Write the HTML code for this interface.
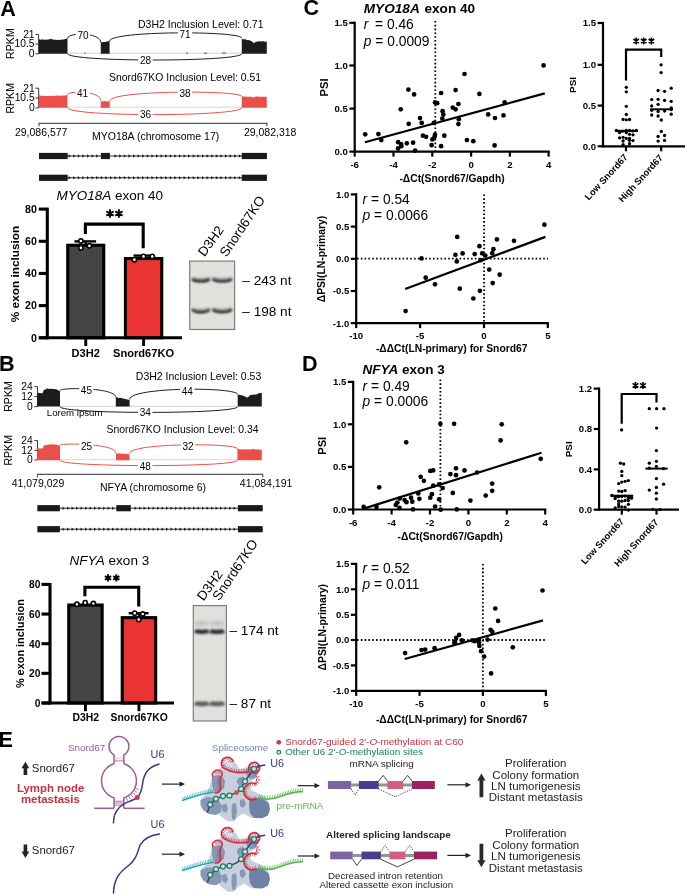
<!DOCTYPE html>
<html><head><meta charset="utf-8"><title>Figure</title>
<style>
html,body{margin:0;padding:0;background:#fff;width:685px;height:895px;overflow:hidden;}
svg{display:block;will-change:transform;font-family:"Liberation Sans", sans-serif;}
</style></head><body>
<svg width="685" height="895" viewBox="0 0 685 895">
<defs><filter id="blur1" filterUnits="userSpaceOnUse" x="0" y="0" width="685" height="895"><feGaussianBlur stdDeviation="0.6"/></filter><filter id="blur05"><feGaussianBlur stdDeviation="0.35"/></filter><filter id="blur06" filterUnits="userSpaceOnUse" x="0" y="0" width="685" height="895"><feGaussianBlur stdDeviation="0.6"/></filter><filter id="blur08" filterUnits="userSpaceOnUse" x="0" y="0" width="685" height="895"><feGaussianBlur stdDeviation="1.0"/></filter><filter id="blur10" filterUnits="userSpaceOnUse" x="0" y="0" width="685" height="895"><feGaussianBlur stdDeviation="1.2"/></filter><filter id="blur15" filterUnits="userSpaceOnUse" x="0" y="0" width="685" height="895"><feGaussianBlur stdDeviation="1.4"/></filter></defs>
<text x="0.20" y="15.60" font-size="21.6" font-weight="bold">A</text>
<text transform="translate(13.90,43.60) rotate(-90)" x="0" y="0" font-size="10.6" text-anchor="middle">RPKM</text>
<line x1="38.60" y1="34.40" x2="38.60" y2="53.80" stroke="#222" stroke-width="0.9"/>
<line x1="35.40" y1="34.40" x2="38.60" y2="34.40" stroke="#222" stroke-width="0.9"/>
<text x="34.60" y="37.70" font-size="10.3" text-anchor="end">21</text>
<line x1="35.40" y1="44.10" x2="38.60" y2="44.10" stroke="#222" stroke-width="0.9"/>
<text x="34.60" y="47.40" font-size="10.3" text-anchor="end">10.5</text>
<line x1="35.40" y1="53.80" x2="38.60" y2="53.80" stroke="#222" stroke-width="0.9"/>
<text x="34.60" y="57.10" font-size="10.3" text-anchor="end">0</text>
<text x="263.50" y="27.50" font-size="10.5" text-anchor="end">D3H2 Inclusion Level: 0.71</text>
<line x1="67.50" y1="53.20" x2="241.80" y2="53.20" stroke="#d2d2d2" stroke-width="1.0"/>
<path d="M84,53.2 h1.5 M204,53.2 h3 M222,53.2 h4 M186,53.2 h2" stroke="#555" stroke-width="1"/>
<path d="M38.90,53.80 L38.90,38.92 L39.51,39.46 L40.12,39.61 L40.73,39.76 L41.33,39.77 L41.94,39.37 L42.55,39.33 L43.16,39.90 L43.77,39.48 L44.38,39.46 L44.99,39.98 L45.59,39.61 L46.20,39.86 L46.81,39.60 L47.42,39.70 L48.03,39.35 L48.64,39.50 L49.24,39.47 L49.85,39.05 L50.46,39.01 L51.07,39.08 L51.68,38.85 L52.29,39.54 L52.90,39.63 L53.50,39.47 L54.11,39.30 L54.72,39.89 L55.33,39.63 L55.94,39.82 L56.55,39.94 L57.16,39.84 L57.76,40.00 L58.37,39.65 L58.98,39.94 L59.59,39.71 L60.20,40.06 L60.81,40.04 L61.41,39.51 L62.02,39.54 L62.63,39.45 L63.24,39.83 L63.85,39.31 L64.46,39.30 L65.07,38.91 L65.67,38.89 L66.28,38.64 L66.89,38.46 L67.50,38.46 L67.50,53.80 Z" fill="#1c1c1c"/>
<path d="M100.80,53.80 L100.80,42.49 L101.43,42.33 L102.06,42.34 L102.69,42.14 L103.31,42.00 L103.94,42.02 L104.57,42.12 L105.20,41.97 L105.83,41.85 L106.46,41.52 L107.09,41.54 L107.71,41.33 L108.34,41.18 L108.97,41.05 L109.60,40.99 L109.60,53.80 Z" fill="#1c1c1c"/>
<path d="M241.80,53.80 L241.80,38.79 L242.41,38.99 L243.02,39.14 L243.63,39.36 L244.24,39.33 L244.85,39.58 L245.46,39.07 L246.07,39.49 L246.68,39.99 L247.29,39.94 L247.90,40.27 L248.51,39.88 L249.12,40.29 L249.73,40.29 L250.34,40.66 L250.95,40.84 L251.56,40.95 L252.17,41.63 L252.78,42.21 L253.39,43.19 L254.00,42.99 L254.60,42.32 L255.21,42.52 L255.82,41.82 L256.43,41.91 L257.04,41.45 L257.65,41.25 L258.26,41.76 L258.87,41.19 L259.48,41.09 L260.09,41.54 L260.70,41.48 L261.31,41.09 L261.92,41.58 L262.53,41.30 L263.14,41.42 L263.75,41.10 L264.36,41.64 L264.97,41.48 L265.58,41.69 L266.19,41.66 L266.80,41.26 L266.80,53.80 Z" fill="#1c1c1c"/>
<path d="M67.50,38.60 C67.50,32.07 100.80,32.07 100.80,42.60" fill="none" stroke="#1c1c1c" stroke-width="1.0"/>
<path d="M109.60,41.10 C109.60,30.65 241.80,30.65 241.80,38.20" fill="none" stroke="#1c1c1c" stroke-width="1.0"/>
<path d="M67.50,53.60 C67.50,62.13 241.80,62.13 241.80,53.60" fill="none" stroke="#1c1c1c" stroke-width="1.0"/>
<rect x="75.84" y="30.90" width="14.32" height="8.40" fill="#fff"/>
<text x="83.00" y="38.68" font-size="10.0" text-anchor="middle">70</text>
<rect x="177.84" y="30.30" width="14.32" height="8.40" fill="#fff"/>
<text x="185.00" y="38.08" font-size="10.0" text-anchor="middle">71</text>
<rect x="138.34" y="56.00" width="14.32" height="8.40" fill="#fff"/>
<text x="145.50" y="63.78" font-size="10.0" text-anchor="middle">28</text>
<text transform="translate(13.90,98.30) rotate(-90)" x="0" y="0" font-size="10.6" text-anchor="middle">RPKM</text>
<line x1="38.70" y1="88.20" x2="38.70" y2="107.90" stroke="#222" stroke-width="0.9"/>
<line x1="35.50" y1="88.20" x2="38.70" y2="88.20" stroke="#222" stroke-width="0.9"/>
<text x="34.70" y="91.50" font-size="10.3" text-anchor="end">21</text>
<line x1="35.50" y1="98.05" x2="38.70" y2="98.05" stroke="#222" stroke-width="0.9"/>
<text x="34.70" y="101.35" font-size="10.3" text-anchor="end">10.5</text>
<line x1="35.50" y1="107.90" x2="38.70" y2="107.90" stroke="#222" stroke-width="0.9"/>
<text x="34.70" y="111.20" font-size="10.3" text-anchor="end">0</text>
<text x="261.00" y="81.20" font-size="10.4" text-anchor="end">Snord67KO Inclusion Level: 0.51</text>
<line x1="67.50" y1="107.20" x2="241.80" y2="107.20" stroke="#f6c9c7" stroke-width="1.0"/>
<path d="M38.90,107.80 L38.90,93.51 L39.51,95.70 L40.12,95.80 L40.73,95.65 L41.33,95.48 L41.94,95.96 L42.55,95.84 L43.16,96.05 L43.77,95.79 L44.38,96.08 L44.99,95.74 L45.59,96.13 L46.20,96.09 L46.81,95.88 L47.42,95.98 L48.03,96.09 L48.64,95.76 L49.24,96.02 L49.85,96.21 L50.46,95.82 L51.07,96.17 L51.68,96.06 L52.29,96.15 L52.90,95.77 L53.50,95.58 L54.11,96.05 L54.72,96.02 L55.33,95.75 L55.94,95.48 L56.55,95.53 L57.16,95.81 L57.76,95.54 L58.37,95.98 L58.98,95.70 L59.59,95.41 L60.20,95.70 L60.81,95.46 L61.41,95.83 L62.02,95.78 L62.63,95.47 L63.24,95.53 L63.85,95.53 L64.46,95.58 L65.07,95.66 L65.67,94.97 L66.28,95.17 L66.89,95.30 L67.50,95.06 L67.50,107.80 Z" fill="#ea4f4a"/>
<path d="M100.80,107.80 L100.80,101.23 L101.40,101.16 L102.00,101.36 L102.60,101.13 L103.20,101.31 L103.80,101.25 L104.40,101.12 L105.00,101.30 L105.60,101.11 L106.20,101.27 L106.80,101.13 L107.40,101.14 L108.00,101.27 L108.60,101.43 L109.20,101.15 L109.80,101.19 L109.80,107.80 Z" fill="#ea4f4a"/>
<path d="M241.80,107.80 L241.80,96.21 L242.41,96.75 L243.02,96.20 L243.63,96.63 L244.24,96.23 L244.85,96.37 L245.46,96.93 L246.07,96.40 L246.68,96.74 L247.29,96.64 L247.90,96.66 L248.51,96.72 L249.12,96.54 L249.73,97.02 L250.34,96.59 L250.95,96.83 L251.56,96.83 L252.17,97.14 L252.78,97.38 L253.39,97.67 L254.00,97.12 L254.60,96.75 L255.21,96.67 L255.82,97.00 L256.43,96.30 L257.04,96.70 L257.65,96.54 L258.26,96.75 L258.87,96.54 L259.48,96.80 L260.09,96.67 L260.70,96.79 L261.31,96.98 L261.92,96.77 L262.53,96.47 L263.14,96.43 L263.75,97.06 L264.36,96.75 L264.97,96.55 L265.58,97.09 L266.19,96.84 L266.80,96.96 L266.80,107.80 Z" fill="#ea4f4a"/>
<path d="M67.50,94.80 C67.50,90.60 100.80,90.60 100.80,100.80" fill="none" stroke="#ea4f4a" stroke-width="1.0"/>
<path d="M109.80,101.00 C109.80,90.02 241.80,90.02 241.80,96.50" fill="none" stroke="#ea4f4a" stroke-width="1.0"/>
<path d="M67.50,107.60 C67.50,116.93 241.80,116.93 241.80,107.60" fill="none" stroke="#ea4f4a" stroke-width="1.0"/>
<rect x="75.34" y="89.50" width="14.32" height="8.40" fill="#fff"/>
<text x="82.50" y="97.28" font-size="10.0" text-anchor="middle">41</text>
<rect x="177.84" y="89.20" width="14.32" height="8.40" fill="#fff"/>
<text x="185.00" y="96.98" font-size="10.0" text-anchor="middle">38</text>
<rect x="138.34" y="110.70" width="14.32" height="8.40" fill="#fff"/>
<text x="145.50" y="118.48" font-size="10.0" text-anchor="middle">36</text>
<line x1="39.00" y1="123.30" x2="266.90" y2="123.30" stroke="#555" stroke-width="1.2"/>
<line x1="39.00" y1="122.70" x2="39.00" y2="126.20" stroke="#555" stroke-width="1.2"/>
<line x1="266.90" y1="122.70" x2="266.90" y2="126.20" stroke="#555" stroke-width="1.2"/>
<text x="14.90" y="135.80" font-size="10.5">29,086,577</text>
<text x="243.90" y="135.80" font-size="10.5">29,082,318</text>
<text x="92.00" y="139.50" font-size="10.5">MYO18A (chromosome 17)</text>
<line x1="39.00" y1="156.00" x2="266.90" y2="156.00" stroke="#2a2a2a" stroke-width="1.0"/>
<path d="M68.60,154.20 L70.80,156.00 L68.60,157.80 Z M73.20,154.20 L75.40,156.00 L73.20,157.80 Z M77.80,154.20 L80.00,156.00 L77.80,157.80 Z M82.40,154.20 L84.60,156.00 L82.40,157.80 Z M87.00,154.20 L89.20,156.00 L87.00,157.80 Z M91.60,154.20 L93.80,156.00 L91.60,157.80 Z M96.20,154.20 L98.40,156.00 L96.20,157.80 Z M114.60,154.20 L116.80,156.00 L114.60,157.80 Z M119.20,154.20 L121.40,156.00 L119.20,157.80 Z M123.80,154.20 L126.00,156.00 L123.80,157.80 Z M128.40,154.20 L130.60,156.00 L128.40,157.80 Z M133.00,154.20 L135.20,156.00 L133.00,157.80 Z M137.60,154.20 L139.80,156.00 L137.60,157.80 Z M142.20,154.20 L144.40,156.00 L142.20,157.80 Z M146.80,154.20 L149.00,156.00 L146.80,157.80 Z M151.40,154.20 L153.60,156.00 L151.40,157.80 Z M156.00,154.20 L158.20,156.00 L156.00,157.80 Z M160.60,154.20 L162.80,156.00 L160.60,157.80 Z M165.20,154.20 L167.40,156.00 L165.20,157.80 Z M169.80,154.20 L172.00,156.00 L169.80,157.80 Z M174.40,154.20 L176.60,156.00 L174.40,157.80 Z M179.00,154.20 L181.20,156.00 L179.00,157.80 Z M183.60,154.20 L185.80,156.00 L183.60,157.80 Z M188.20,154.20 L190.40,156.00 L188.20,157.80 Z M192.80,154.20 L195.00,156.00 L192.80,157.80 Z M197.40,154.20 L199.60,156.00 L197.40,157.80 Z M202.00,154.20 L204.20,156.00 L202.00,157.80 Z M206.60,154.20 L208.80,156.00 L206.60,157.80 Z M211.20,154.20 L213.40,156.00 L211.20,157.80 Z M215.80,154.20 L218.00,156.00 L215.80,157.80 Z M220.40,154.20 L222.60,156.00 L220.40,157.80 Z M225.00,154.20 L227.20,156.00 L225.00,157.80 Z M229.60,154.20 L231.80,156.00 L229.60,157.80 Z M234.20,154.20 L236.40,156.00 L234.20,157.80 Z M238.80,154.20 L241.00,156.00 L238.80,157.80 Z " fill="#1a1a1a"/>
<rect x="39.00" y="152.90" width="28.70" height="6.20" fill="#1a1a1a"/>
<rect x="100.90" y="152.90" width="9.00" height="6.20" fill="#1a1a1a"/>
<rect x="241.70" y="152.90" width="25.20" height="6.20" fill="#1a1a1a"/>
<line x1="39.00" y1="177.80" x2="266.90" y2="177.80" stroke="#2a2a2a" stroke-width="1.0"/>
<path d="M68.60,176.00 L70.80,177.80 L68.60,179.60 Z M73.20,176.00 L75.40,177.80 L73.20,179.60 Z M77.80,176.00 L80.00,177.80 L77.80,179.60 Z M82.40,176.00 L84.60,177.80 L82.40,179.60 Z M87.00,176.00 L89.20,177.80 L87.00,179.60 Z M91.60,176.00 L93.80,177.80 L91.60,179.60 Z M96.20,176.00 L98.40,177.80 L96.20,179.60 Z M100.80,176.00 L103.00,177.80 L100.80,179.60 Z M105.40,176.00 L107.60,177.80 L105.40,179.60 Z M110.00,176.00 L112.20,177.80 L110.00,179.60 Z M114.60,176.00 L116.80,177.80 L114.60,179.60 Z M119.20,176.00 L121.40,177.80 L119.20,179.60 Z M123.80,176.00 L126.00,177.80 L123.80,179.60 Z M128.40,176.00 L130.60,177.80 L128.40,179.60 Z M133.00,176.00 L135.20,177.80 L133.00,179.60 Z M137.60,176.00 L139.80,177.80 L137.60,179.60 Z M142.20,176.00 L144.40,177.80 L142.20,179.60 Z M146.80,176.00 L149.00,177.80 L146.80,179.60 Z M151.40,176.00 L153.60,177.80 L151.40,179.60 Z M156.00,176.00 L158.20,177.80 L156.00,179.60 Z M160.60,176.00 L162.80,177.80 L160.60,179.60 Z M165.20,176.00 L167.40,177.80 L165.20,179.60 Z M169.80,176.00 L172.00,177.80 L169.80,179.60 Z M174.40,176.00 L176.60,177.80 L174.40,179.60 Z M179.00,176.00 L181.20,177.80 L179.00,179.60 Z M183.60,176.00 L185.80,177.80 L183.60,179.60 Z M188.20,176.00 L190.40,177.80 L188.20,179.60 Z M192.80,176.00 L195.00,177.80 L192.80,179.60 Z M197.40,176.00 L199.60,177.80 L197.40,179.60 Z M202.00,176.00 L204.20,177.80 L202.00,179.60 Z M206.60,176.00 L208.80,177.80 L206.60,179.60 Z M211.20,176.00 L213.40,177.80 L211.20,179.60 Z M215.80,176.00 L218.00,177.80 L215.80,179.60 Z M220.40,176.00 L222.60,177.80 L220.40,179.60 Z M225.00,176.00 L227.20,177.80 L225.00,179.60 Z M229.60,176.00 L231.80,177.80 L229.60,179.60 Z M234.20,176.00 L236.40,177.80 L234.20,179.60 Z M238.80,176.00 L241.00,177.80 L238.80,179.60 Z " fill="#1a1a1a"/>
<rect x="39.00" y="174.70" width="28.70" height="6.20" fill="#1a1a1a"/>
<rect x="241.70" y="174.70" width="25.20" height="6.20" fill="#1a1a1a"/>
<rect x="67.75" y="245.25" width="36.00" height="92.55" fill="#454547" stroke="#000" stroke-width="3.1"/>
<line x1="85.75" y1="241.40" x2="85.75" y2="245.70" stroke="#000" stroke-width="2.2"/>
<line x1="74.50" y1="241.40" x2="96.10" y2="241.40" stroke="#000" stroke-width="2.4"/>
<circle cx="80.90" cy="241.00" r="2.15" fill="#fff" stroke="#000" stroke-width="1.6"/>
<circle cx="80.90" cy="247.90" r="2.15" fill="#fff" stroke="#000" stroke-width="1.6"/>
<circle cx="89.40" cy="245.80" r="2.15" fill="#fff" stroke="#000" stroke-width="1.6"/>
<line x1="85.75" y1="337.80" x2="85.75" y2="346.00" stroke="#000" stroke-width="2.9"/>
<rect x="125.45" y="258.55" width="36.30" height="79.25" fill="#ea3434" stroke="#000" stroke-width="3.1"/>
<line x1="143.60" y1="255.60" x2="143.60" y2="259.00" stroke="#000" stroke-width="2.2"/>
<line x1="133.50" y1="255.60" x2="153.50" y2="255.60" stroke="#000" stroke-width="2.4"/>
<circle cx="134.40" cy="259.70" r="2.15" fill="#fff" stroke="#000" stroke-width="1.6"/>
<circle cx="143.50" cy="256.40" r="2.15" fill="#fff" stroke="#000" stroke-width="1.6"/>
<circle cx="152.30" cy="256.40" r="2.15" fill="#fff" stroke="#000" stroke-width="1.6"/>
<line x1="143.60" y1="337.80" x2="143.60" y2="346.00" stroke="#000" stroke-width="2.9"/>
<line x1="47.30" y1="207.70" x2="47.30" y2="339.30" stroke="#000" stroke-width="3.1"/>
<line x1="38.80" y1="337.80" x2="182.00" y2="337.80" stroke="#000" stroke-width="3.1"/>
<line x1="38.80" y1="337.80" x2="47.30" y2="337.80" stroke="#000" stroke-width="3.1"/>
<text x="36.80" y="341.60" font-size="10.6" text-anchor="end" font-weight="bold">0</text>
<line x1="38.80" y1="305.62" x2="47.30" y2="305.62" stroke="#000" stroke-width="3.1"/>
<text x="36.80" y="309.43" font-size="10.6" text-anchor="end" font-weight="bold">20</text>
<line x1="38.80" y1="273.45" x2="47.30" y2="273.45" stroke="#000" stroke-width="3.1"/>
<text x="36.80" y="277.25" font-size="10.6" text-anchor="end" font-weight="bold">40</text>
<line x1="38.80" y1="241.28" x2="47.30" y2="241.28" stroke="#000" stroke-width="3.1"/>
<text x="36.80" y="245.08" font-size="10.6" text-anchor="end" font-weight="bold">60</text>
<line x1="38.80" y1="209.10" x2="47.30" y2="209.10" stroke="#000" stroke-width="3.1"/>
<text x="36.80" y="212.90" font-size="10.6" text-anchor="end" font-weight="bold">80</text>
<path d="M85.40,233.90 L85.40,224.10 L143.20,224.10 L143.20,248.30" fill="none" stroke="#000" stroke-width="3.1"/>
<path d="M110.00,209.30 L110.00,217.70 M106.36,211.40 L113.64,215.60 M106.36,215.60 L113.64,211.40 M118.90,209.30 L118.90,217.70 M115.26,211.40 L122.54,215.60 M115.26,215.60 L122.54,211.40 " stroke="#000" stroke-width="1.9" fill="none"/>
<text x="56.5" y="199.7" font-size="13.5"><tspan font-style="italic">MYO18A</tspan> exon 40</text>
<text transform="translate(19.30,274.00) rotate(-90)" x="0" y="0" font-size="11.8" text-anchor="middle" font-weight="bold">% exon inclusion</text>
<text x="71.50" y="357.30" font-size="11.1" font-weight="bold">D3H2</text>
<text x="113.00" y="357.30" font-size="11.1" font-weight="bold">Snord67KO</text>
<rect x="189.70" y="261.10" width="44.90" height="68.40" fill="#e0e0dd" stroke="#7e7e7e" stroke-width="1.2"/>
<path d="M192.00,277.80 C194.11,279.93 207.49,279.93 209.60,277.80" fill="none" stroke="#a8a8a8" stroke-width="3.2" filter="url(#blur10)"/>
<path d="M212.50,277.80 C214.82,279.93 229.48,279.93 231.80,277.80" fill="none" stroke="#a8a8a8" stroke-width="3.2" filter="url(#blur10)"/>
<path d="M192.00,308.20 C194.11,310.73 207.49,310.73 209.60,308.20" fill="none" stroke="#a8a8a8" stroke-width="3.2" filter="url(#blur10)"/>
<path d="M212.50,308.20 C214.82,310.73 229.48,310.73 231.80,308.20" fill="none" stroke="#a8a8a8" stroke-width="3.2" filter="url(#blur10)"/>
<path d="M192.30,279.00 C194.35,282.07 207.35,282.07 209.40,279.00" fill="none" stroke="#262626" stroke-width="2.6" filter="url(#blur08)"/>
<path d="M212.80,279.00 C215.06,282.07 229.34,282.07 231.60,279.00" fill="none" stroke="#262626" stroke-width="2.6" filter="url(#blur08)"/>
<path d="M192.30,309.60 C194.35,312.93 207.35,312.93 209.40,309.60" fill="none" stroke="#262626" stroke-width="2.6" filter="url(#blur08)"/>
<path d="M212.80,309.60 C215.06,312.93 229.34,312.93 231.60,309.60" fill="none" stroke="#262626" stroke-width="2.6" filter="url(#blur08)"/>
<text x="242.30" y="285.20" font-size="13.6">– 243 nt</text>
<text x="242.30" y="316.20" font-size="13.6">– 198 nt</text>
<text transform="translate(204.5,257.3) rotate(-54)" font-size="13.2">D3H2</text>
<text transform="translate(226.5,257.8) rotate(-56)" font-size="13.4">Snord67KO</text>
<text x="-0.90" y="370.80" font-size="21.6" font-weight="bold">B</text>
<text transform="translate(12.40,396.50) rotate(-90)" x="0" y="0" font-size="10.6" text-anchor="middle">RPKM</text>
<line x1="37.50" y1="386.60" x2="37.50" y2="406.60" stroke="#222" stroke-width="0.9"/>
<line x1="34.30" y1="386.60" x2="37.50" y2="386.60" stroke="#222" stroke-width="0.9"/>
<text x="32.80" y="389.90" font-size="10.3" text-anchor="end">24</text>
<line x1="34.30" y1="396.60" x2="37.50" y2="396.60" stroke="#222" stroke-width="0.9"/>
<text x="32.80" y="399.90" font-size="10.3" text-anchor="end">12</text>
<line x1="34.30" y1="406.60" x2="37.50" y2="406.60" stroke="#222" stroke-width="0.9"/>
<text x="32.80" y="409.90" font-size="10.3" text-anchor="end">0</text>
<text x="261.30" y="380.40" font-size="10.5" text-anchor="end">D3H2 Inclusion Level: 0.53</text>
<line x1="60.00" y1="406.30" x2="237.70" y2="406.30" stroke="#d2d2d2" stroke-width="1.0"/>
<path d="M37.20,406.60 L37.20,393.07 L37.80,393.01 L38.40,392.85 L39.00,393.36 L39.60,392.75 L40.20,393.10 L40.80,393.38 L41.40,392.81 L42.00,393.14 L42.60,393.18 L43.20,391.71 L43.80,389.76 L44.40,389.81 L45.00,389.45 L45.60,389.47 L46.20,388.89 L46.80,388.77 L47.40,388.50 L48.00,388.60 L48.60,388.93 L49.20,388.72 L49.80,388.88 L50.40,388.64 L51.00,388.92 L51.60,388.50 L52.20,388.69 L52.80,389.05 L53.40,389.18 L54.00,389.07 L54.60,388.93 L55.20,389.15 L55.80,389.20 L56.40,389.35 L57.00,389.82 L57.60,389.67 L58.20,390.43 L58.80,390.71 L59.40,390.41 L60.00,390.92 L60.00,406.60 Z" fill="#1c1c1c"/>
<path d="M115.80,406.60 L115.80,397.34 L116.43,397.36 L117.05,397.52 L117.68,397.43 L118.31,397.82 L118.94,397.92 L119.56,397.92 L120.19,397.77 L120.82,398.04 L121.45,398.03 L122.07,398.09 L122.70,398.59 L123.33,398.76 L123.95,398.44 L124.58,398.99 L125.21,399.01 L125.84,399.05 L126.46,399.15 L127.09,399.49 L127.72,399.53 L128.35,399.80 L128.97,399.93 L129.60,399.82 L129.60,406.60 Z" fill="#1c1c1c"/>
<path d="M237.70,406.60 L237.70,394.57 L238.30,394.74 L238.91,395.09 L239.51,394.87 L240.11,395.00 L240.71,395.15 L241.31,394.97 L241.92,395.29 L242.52,395.62 L243.12,396.00 L243.72,395.77 L244.33,396.19 L244.93,396.30 L245.53,397.07 L246.13,397.25 L246.74,397.06 L247.34,397.63 L247.94,397.24 L248.54,396.64 L249.15,396.24 L249.75,395.54 L250.35,395.07 L250.96,395.05 L251.56,394.64 L252.16,394.67 L252.76,394.64 L253.37,394.43 L253.97,394.68 L254.57,394.60 L255.17,394.80 L255.78,394.43 L256.38,394.38 L256.98,394.14 L257.58,394.11 L258.19,393.71 L258.79,393.06 L259.39,393.04 L259.99,393.03 L260.60,393.03 L261.20,393.04 L261.80,392.87 L261.80,406.60 Z" fill="#1c1c1c"/>
<path d="M60.00,390.50 C60.00,387.37 115.80,387.37 115.80,397.30" fill="none" stroke="#1c1c1c" stroke-width="1.0"/>
<path d="M129.60,399.50 C129.60,386.72 237.70,386.72 237.70,394.60" fill="none" stroke="#1c1c1c" stroke-width="1.0"/>
<path d="M60.00,406.60 C60.00,414.33 237.70,414.33 237.70,406.60" fill="none" stroke="#1c1c1c" stroke-width="1.0"/>
<rect x="79.24" y="386.30" width="14.32" height="8.40" fill="#fff"/>
<text x="86.40" y="394.08" font-size="10.0" text-anchor="middle">45</text>
<rect x="180.14" y="386.80" width="14.32" height="8.40" fill="#fff"/>
<text x="187.30" y="394.58" font-size="10.0" text-anchor="middle">44</text>
<rect x="138.04" y="408.40" width="14.32" height="8.40" fill="#fff"/>
<text x="145.20" y="416.18" font-size="10.0" text-anchor="middle">34</text>
<text x="46.80" y="415.80" font-size="9.65">Lorem ipsum</text>
<text transform="translate(12.40,450.30) rotate(-90)" x="0" y="0" font-size="10.6" text-anchor="middle">RPKM</text>
<line x1="37.50" y1="440.60" x2="37.50" y2="460.00" stroke="#222" stroke-width="0.9"/>
<line x1="34.30" y1="440.60" x2="37.50" y2="440.60" stroke="#222" stroke-width="0.9"/>
<text x="32.80" y="443.90" font-size="10.3" text-anchor="end">24</text>
<line x1="34.30" y1="450.30" x2="37.50" y2="450.30" stroke="#222" stroke-width="0.9"/>
<text x="32.80" y="453.60" font-size="10.3" text-anchor="end">12</text>
<line x1="34.30" y1="460.00" x2="37.50" y2="460.00" stroke="#222" stroke-width="0.9"/>
<text x="32.80" y="463.30" font-size="10.3" text-anchor="end">0</text>
<text x="258.50" y="433.40" font-size="10.4" text-anchor="end">Snord67KO Inclusion Level: 0.34</text>
<line x1="60.00" y1="459.70" x2="237.40" y2="459.70" stroke="#f6c9c7" stroke-width="1.0"/>
<path d="M37.20,460.20 L37.20,448.58 L37.80,448.69 L38.40,448.68 L39.00,448.29 L39.60,448.17 L40.20,448.41 L40.80,448.32 L41.40,448.67 L42.00,448.57 L42.60,448.48 L43.20,447.44 L43.80,445.49 L44.40,445.04 L45.00,445.17 L45.60,444.89 L46.20,445.33 L46.80,444.65 L47.40,445.10 L48.00,444.50 L48.60,444.87 L49.20,444.57 L49.80,444.55 L50.40,444.80 L51.00,444.16 L51.60,444.13 L52.20,444.67 L52.80,444.33 L53.40,443.97 L54.00,444.54 L54.60,444.66 L55.20,444.23 L55.80,444.60 L56.40,444.54 L57.00,444.82 L57.60,445.19 L58.20,445.01 L58.80,445.54 L59.40,445.24 L60.00,445.47 L60.00,460.20 Z" fill="#ea4f4a"/>
<path d="M116.00,460.20 L116.00,453.18 L116.62,453.43 L117.24,453.46 L117.85,453.58 L118.47,453.29 L119.09,453.35 L119.71,453.34 L120.33,453.42 L120.95,453.71 L121.56,453.44 L122.18,453.68 L122.80,453.56 L123.42,453.63 L124.04,453.74 L124.65,453.98 L125.27,453.90 L125.89,453.64 L126.51,453.81 L127.13,453.78 L127.75,454.18 L128.36,454.18 L128.98,454.22 L129.60,454.26 L129.60,460.20 Z" fill="#ea4f4a"/>
<path d="M237.40,460.20 L237.40,448.32 L238.01,448.91 L238.62,449.03 L239.23,449.40 L239.84,449.10 L240.45,449.14 L241.06,449.49 L241.67,449.44 L242.28,449.21 L242.89,449.49 L243.50,449.30 L244.11,449.58 L244.72,449.13 L245.33,449.21 L245.94,449.70 L246.55,449.33 L247.16,449.28 L247.77,449.67 L248.38,449.56 L248.99,449.23 L249.60,449.53 L250.21,449.59 L250.82,449.18 L251.43,449.46 L252.04,449.03 L252.65,449.12 L253.26,448.88 L253.87,448.91 L254.48,449.39 L255.09,448.95 L255.70,449.45 L256.31,449.15 L256.92,449.36 L257.53,449.63 L258.14,449.59 L258.75,449.28 L259.36,449.70 L259.97,449.82 L260.58,449.60 L261.19,449.63 L261.80,450.26 L261.80,460.20 Z" fill="#ea4f4a"/>
<path d="M60.00,445.20 C60.00,443.05 116.00,443.05 116.00,453.30" fill="none" stroke="#ea4f4a" stroke-width="1.0"/>
<path d="M129.60,453.50 C129.60,442.82 237.40,442.82 237.40,448.80" fill="none" stroke="#ea4f4a" stroke-width="1.0"/>
<path d="M60.00,460.20 C60.00,467.40 237.40,467.40 237.40,460.20" fill="none" stroke="#ea4f4a" stroke-width="1.0"/>
<rect x="79.34" y="441.80" width="14.32" height="8.40" fill="#fff"/>
<text x="86.50" y="449.58" font-size="10.0" text-anchor="middle">25</text>
<rect x="180.84" y="441.80" width="14.32" height="8.40" fill="#fff"/>
<text x="188.00" y="449.58" font-size="10.0" text-anchor="middle">32</text>
<rect x="138.04" y="461.90" width="14.32" height="8.40" fill="#fff"/>
<text x="145.20" y="469.68" font-size="10.0" text-anchor="middle">48</text>
<line x1="37.40" y1="474.30" x2="262.70" y2="474.30" stroke="#555" stroke-width="1.2"/>
<line x1="37.40" y1="473.70" x2="37.40" y2="477.20" stroke="#555" stroke-width="1.2"/>
<line x1="262.70" y1="473.70" x2="262.70" y2="477.20" stroke="#555" stroke-width="1.2"/>
<text x="11.70" y="487.20" font-size="10.5">41,079,029</text>
<text x="239.80" y="486.50" font-size="10.5">41,084,191</text>
<text x="100.00" y="491.40" font-size="10.5">NFYA (chromosome 6)</text>
<line x1="37.40" y1="508.20" x2="262.70" y2="508.20" stroke="#2a2a2a" stroke-width="1.0"/>
<path d="M62.60,506.40 L64.80,508.20 L62.60,510.00 Z M67.10,506.40 L69.30,508.20 L67.10,510.00 Z M71.60,506.40 L73.80,508.20 L71.60,510.00 Z M76.10,506.40 L78.30,508.20 L76.10,510.00 Z M80.60,506.40 L82.80,508.20 L80.60,510.00 Z M85.10,506.40 L87.30,508.20 L85.10,510.00 Z M89.60,506.40 L91.80,508.20 L89.60,510.00 Z M94.10,506.40 L96.30,508.20 L94.10,510.00 Z M98.60,506.40 L100.80,508.20 L98.60,510.00 Z M103.10,506.40 L105.30,508.20 L103.10,510.00 Z M107.60,506.40 L109.80,508.20 L107.60,510.00 Z M112.10,506.40 L114.30,508.20 L112.10,510.00 Z M134.60,506.40 L136.80,508.20 L134.60,510.00 Z M139.10,506.40 L141.30,508.20 L139.10,510.00 Z M143.60,506.40 L145.80,508.20 L143.60,510.00 Z M148.10,506.40 L150.30,508.20 L148.10,510.00 Z M152.60,506.40 L154.80,508.20 L152.60,510.00 Z M157.10,506.40 L159.30,508.20 L157.10,510.00 Z M161.60,506.40 L163.80,508.20 L161.60,510.00 Z M166.10,506.40 L168.30,508.20 L166.10,510.00 Z M170.60,506.40 L172.80,508.20 L170.60,510.00 Z M175.10,506.40 L177.30,508.20 L175.10,510.00 Z M179.60,506.40 L181.80,508.20 L179.60,510.00 Z M184.10,506.40 L186.30,508.20 L184.10,510.00 Z M188.60,506.40 L190.80,508.20 L188.60,510.00 Z M193.10,506.40 L195.30,508.20 L193.10,510.00 Z M197.60,506.40 L199.80,508.20 L197.60,510.00 Z M202.10,506.40 L204.30,508.20 L202.10,510.00 Z M206.60,506.40 L208.80,508.20 L206.60,510.00 Z M211.10,506.40 L213.30,508.20 L211.10,510.00 Z M215.60,506.40 L217.80,508.20 L215.60,510.00 Z M220.10,506.40 L222.30,508.20 L220.10,510.00 Z M224.60,506.40 L226.80,508.20 L224.60,510.00 Z M229.10,506.40 L231.30,508.20 L229.10,510.00 Z M233.60,506.40 L235.80,508.20 L233.60,510.00 Z " fill="#1a1a1a"/>
<rect x="37.40" y="505.10" width="22.50" height="6.20" fill="#1a1a1a"/>
<rect x="116.30" y="505.10" width="14.50" height="6.20" fill="#1a1a1a"/>
<rect x="237.90" y="505.10" width="24.80" height="6.20" fill="#1a1a1a"/>
<line x1="37.40" y1="529.20" x2="262.70" y2="529.20" stroke="#2a2a2a" stroke-width="1.0"/>
<path d="M62.60,527.40 L64.80,529.20 L62.60,531.00 Z M67.10,527.40 L69.30,529.20 L67.10,531.00 Z M71.60,527.40 L73.80,529.20 L71.60,531.00 Z M76.10,527.40 L78.30,529.20 L76.10,531.00 Z M80.60,527.40 L82.80,529.20 L80.60,531.00 Z M85.10,527.40 L87.30,529.20 L85.10,531.00 Z M89.60,527.40 L91.80,529.20 L89.60,531.00 Z M94.10,527.40 L96.30,529.20 L94.10,531.00 Z M98.60,527.40 L100.80,529.20 L98.60,531.00 Z M103.10,527.40 L105.30,529.20 L103.10,531.00 Z M107.60,527.40 L109.80,529.20 L107.60,531.00 Z M112.10,527.40 L114.30,529.20 L112.10,531.00 Z M116.60,527.40 L118.80,529.20 L116.60,531.00 Z M121.10,527.40 L123.30,529.20 L121.10,531.00 Z M125.60,527.40 L127.80,529.20 L125.60,531.00 Z M130.10,527.40 L132.30,529.20 L130.10,531.00 Z M134.60,527.40 L136.80,529.20 L134.60,531.00 Z M139.10,527.40 L141.30,529.20 L139.10,531.00 Z M143.60,527.40 L145.80,529.20 L143.60,531.00 Z M148.10,527.40 L150.30,529.20 L148.10,531.00 Z M152.60,527.40 L154.80,529.20 L152.60,531.00 Z M157.10,527.40 L159.30,529.20 L157.10,531.00 Z M161.60,527.40 L163.80,529.20 L161.60,531.00 Z M166.10,527.40 L168.30,529.20 L166.10,531.00 Z M170.60,527.40 L172.80,529.20 L170.60,531.00 Z M175.10,527.40 L177.30,529.20 L175.10,531.00 Z M179.60,527.40 L181.80,529.20 L179.60,531.00 Z M184.10,527.40 L186.30,529.20 L184.10,531.00 Z M188.60,527.40 L190.80,529.20 L188.60,531.00 Z M193.10,527.40 L195.30,529.20 L193.10,531.00 Z M197.60,527.40 L199.80,529.20 L197.60,531.00 Z M202.10,527.40 L204.30,529.20 L202.10,531.00 Z M206.60,527.40 L208.80,529.20 L206.60,531.00 Z M211.10,527.40 L213.30,529.20 L211.10,531.00 Z M215.60,527.40 L217.80,529.20 L215.60,531.00 Z M220.10,527.40 L222.30,529.20 L220.10,531.00 Z M224.60,527.40 L226.80,529.20 L224.60,531.00 Z M229.10,527.40 L231.30,529.20 L229.10,531.00 Z M233.60,527.40 L235.80,529.20 L233.60,531.00 Z " fill="#1a1a1a"/>
<rect x="37.40" y="526.10" width="22.50" height="6.20" fill="#1a1a1a"/>
<rect x="237.90" y="526.10" width="24.80" height="6.20" fill="#1a1a1a"/>
<rect x="68.75" y="605.05" width="33.40" height="97.95" fill="#454547" stroke="#000" stroke-width="3.1"/>
<circle cx="76.90" cy="604.30" r="2.15" fill="#fff" stroke="#000" stroke-width="1.6"/>
<circle cx="85.20" cy="602.70" r="2.15" fill="#fff" stroke="#000" stroke-width="1.6"/>
<circle cx="93.40" cy="603.50" r="2.15" fill="#fff" stroke="#000" stroke-width="1.6"/>
<line x1="85.45" y1="703.00" x2="85.45" y2="711.20" stroke="#000" stroke-width="2.9"/>
<rect x="122.25" y="617.65" width="33.40" height="85.35" fill="#ea3434" stroke="#000" stroke-width="3.1"/>
<line x1="138.95" y1="613.20" x2="138.95" y2="618.10" stroke="#000" stroke-width="2.2"/>
<line x1="128.70" y1="613.20" x2="148.60" y2="613.20" stroke="#000" stroke-width="2.4"/>
<circle cx="134.70" cy="613.20" r="2.15" fill="#fff" stroke="#000" stroke-width="1.6"/>
<circle cx="138.70" cy="619.60" r="2.15" fill="#fff" stroke="#000" stroke-width="1.6"/>
<circle cx="142.70" cy="614.00" r="2.15" fill="#fff" stroke="#000" stroke-width="1.6"/>
<line x1="138.95" y1="703.00" x2="138.95" y2="711.20" stroke="#000" stroke-width="2.9"/>
<line x1="50.00" y1="583.00" x2="50.00" y2="704.50" stroke="#000" stroke-width="3.1"/>
<line x1="41.50" y1="703.00" x2="174.00" y2="703.00" stroke="#000" stroke-width="3.1"/>
<line x1="41.50" y1="703.00" x2="50.00" y2="703.00" stroke="#000" stroke-width="3.1"/>
<text x="40.40" y="706.80" font-size="10.2" text-anchor="end" font-weight="bold">0</text>
<line x1="41.50" y1="673.35" x2="50.00" y2="673.35" stroke="#000" stroke-width="3.1"/>
<text x="40.40" y="677.15" font-size="10.2" text-anchor="end" font-weight="bold">20</text>
<line x1="41.50" y1="643.70" x2="50.00" y2="643.70" stroke="#000" stroke-width="3.1"/>
<text x="40.40" y="647.50" font-size="10.2" text-anchor="end" font-weight="bold">40</text>
<line x1="41.50" y1="614.05" x2="50.00" y2="614.05" stroke="#000" stroke-width="3.1"/>
<text x="40.40" y="617.85" font-size="10.2" text-anchor="end" font-weight="bold">60</text>
<line x1="41.50" y1="584.40" x2="50.00" y2="584.40" stroke="#000" stroke-width="3.1"/>
<text x="40.40" y="588.20" font-size="10.2" text-anchor="end" font-weight="bold">80</text>
<path d="M84.90,596.30 L84.90,587.20 L138.70,587.20 L138.70,606.40" fill="none" stroke="#000" stroke-width="3.1"/>
<path d="M108.00,574.30 L108.00,581.50 M104.88,576.10 L111.12,579.70 M104.88,579.70 L111.12,576.10 M116.30,574.30 L116.30,581.50 M113.18,576.10 L119.42,579.70 M113.18,579.70 L119.42,576.10 " stroke="#000" stroke-width="1.9" fill="none"/>
<text x="69.6" y="565" font-size="13.5"><tspan font-style="italic">NFYA</tspan> exon 3</text>
<text transform="translate(24.00,643.60) rotate(-90)" x="0" y="0" font-size="10.9" text-anchor="middle" font-weight="bold">% exon inclusion</text>
<text x="72.40" y="721.00" font-size="10.4" font-weight="bold">D3H2</text>
<text x="110.60" y="721.00" font-size="10.4" font-weight="bold">Snord67KO</text>
<rect x="193.30" y="605.60" width="33.10" height="115.40" fill="#e0e0dd" stroke="#7e7e7e" stroke-width="1.2"/>
<path d="M195.20,622.80 C196.78,623.60 206.82,623.60 208.40,622.80" fill="none" stroke="#c4c4c2" stroke-width="5.0" filter="url(#blur15)"/>
<path d="M210.20,622.80 C211.83,623.60 222.17,623.60 223.80,622.80" fill="none" stroke="#c4c4c2" stroke-width="5.0" filter="url(#blur15)"/>
<path d="M195.20,630.60 C196.78,632.20 206.82,632.20 208.40,630.60" fill="none" stroke="#2e2e2e" stroke-width="4.3" filter="url(#blur08)"/>
<path d="M210.20,630.60 C211.83,632.20 222.17,632.20 223.80,630.60" fill="none" stroke="#2e2e2e" stroke-width="4.3" filter="url(#blur08)"/>
<path d="M195.20,702.60 C196.78,704.33 206.82,704.33 208.40,702.60" fill="none" stroke="#5e5e5e" stroke-width="4.6" filter="url(#blur10)"/>
<path d="M210.20,702.60 C211.83,704.33 222.17,704.33 223.80,702.60" fill="none" stroke="#5e5e5e" stroke-width="4.6" filter="url(#blur10)"/>
<text x="229.50" y="634.90" font-size="13.6">– 174 nt</text>
<text x="229.50" y="708.30" font-size="13.6">– 87 nt</text>
<text transform="translate(203.5,601.5) rotate(-54)" font-size="13.2">D3H2</text>
<text transform="translate(219.3,601.5) rotate(-56)" font-size="13.4">Snord67KO</text>
<text x="303.60" y="15.20" font-size="21.6" font-weight="bold">C</text>
<text x="363.8" y="13.3" font-size="13.6" font-weight="bold"><tspan font-style="italic">MYO18A</tspan><tspan dx="1"> exon 40</tspan></text>
<line x1="435.30" y1="21.00" x2="435.30" y2="151.00" stroke="#000" stroke-width="1.8" stroke-dasharray="1.6,2.2"/>
<g fill="#000"><circle cx="365.2" cy="134.3" r="2.35"/><circle cx="378.4" cy="134.1" r="2.35"/><circle cx="381.3" cy="140.1" r="2.35"/><circle cx="400.7" cy="109.3" r="2.35"/><circle cx="408.4" cy="89.6" r="2.35"/><circle cx="414.1" cy="94.4" r="2.35"/><circle cx="408.7" cy="123.8" r="2.35"/><circle cx="420.0" cy="118.1" r="2.35"/><circle cx="421.7" cy="122.9" r="2.35"/><circle cx="398.1" cy="142.2" r="2.35"/><circle cx="401.0" cy="144.0" r="2.35"/><circle cx="401.4" cy="146.2" r="2.35"/><circle cx="398.1" cy="148.4" r="2.35"/><circle cx="406.8" cy="143.3" r="2.35"/><circle cx="413.1" cy="142.7" r="2.35"/><circle cx="415.1" cy="150.6" r="2.35"/><circle cx="422.9" cy="135.7" r="2.35"/><circle cx="426.1" cy="136.8" r="2.35"/><circle cx="433.8" cy="122.9" r="2.35"/><circle cx="435.0" cy="102.4" r="2.35"/><circle cx="437.2" cy="103.2" r="2.35"/><circle cx="441.1" cy="93.0" r="2.35"/><circle cx="442.6" cy="111.2" r="2.35"/><circle cx="443.3" cy="114.6" r="2.35"/><circle cx="442.3" cy="118.5" r="2.35"/><circle cx="435.0" cy="134.6" r="2.35"/><circle cx="434.6" cy="136.8" r="2.35"/><circle cx="432.4" cy="139.4" r="2.35"/><circle cx="431.6" cy="145.2" r="2.35"/><circle cx="441.1" cy="146.2" r="2.35"/><circle cx="444.3" cy="135.7" r="2.35"/><circle cx="452.8" cy="107.6" r="2.35"/><circle cx="455.6" cy="90.1" r="2.35"/><circle cx="543.6" cy="65.4" r="2.35"/><circle cx="464.5" cy="74.0" r="2.35"/><circle cx="479.4" cy="93.9" r="2.35"/><circle cx="458.4" cy="104.0" r="2.35"/><circle cx="455.6" cy="109.3" r="2.35"/><circle cx="504.6" cy="102.4" r="2.35"/><circle cx="458.8" cy="119.2" r="2.35"/><circle cx="458.4" cy="124.1" r="2.35"/><circle cx="488.2" cy="114.4" r="2.35"/><circle cx="495.0" cy="118.0" r="2.35"/><circle cx="503.5" cy="115.4" r="2.35"/><circle cx="466.9" cy="140.1" r="2.35"/><circle cx="473.3" cy="141.2" r="2.35"/><circle cx="494.6" cy="145.4" r="2.35"/></g>
<line x1="364.90" y1="142.30" x2="544.80" y2="93.40" stroke="#000" stroke-width="2.2"/>
<line x1="354.70" y1="21.70" x2="354.70" y2="152.70" stroke="#000" stroke-width="2.2"/>
<line x1="349.30" y1="22.80" x2="354.70" y2="22.80" stroke="#000" stroke-width="2.2"/>
<text x="347.80" y="26.20" font-size="9.6" text-anchor="end" font-weight="bold">1.5</text>
<line x1="349.30" y1="65.50" x2="354.70" y2="65.50" stroke="#000" stroke-width="2.2"/>
<text x="347.80" y="68.90" font-size="9.6" text-anchor="end" font-weight="bold">1.0</text>
<line x1="349.30" y1="108.60" x2="354.70" y2="108.60" stroke="#000" stroke-width="2.2"/>
<text x="347.80" y="112.00" font-size="9.6" text-anchor="end" font-weight="bold">0.5</text>
<line x1="349.30" y1="151.60" x2="354.70" y2="151.60" stroke="#000" stroke-width="2.2"/>
<text x="347.80" y="155.00" font-size="9.6" text-anchor="end" font-weight="bold">0.0</text>
<line x1="353.60" y1="151.60" x2="549.70" y2="151.60" stroke="#000" stroke-width="2.2"/>
<line x1="354.70" y1="151.60" x2="354.70" y2="156.60" stroke="#000" stroke-width="2.2"/>
<text x="354.70" y="167.60" font-size="9.6" text-anchor="middle" font-weight="bold">-6</text>
<line x1="393.50" y1="151.60" x2="393.50" y2="156.60" stroke="#000" stroke-width="2.2"/>
<text x="393.50" y="167.60" font-size="9.6" text-anchor="middle" font-weight="bold">-4</text>
<line x1="432.30" y1="151.60" x2="432.30" y2="156.60" stroke="#000" stroke-width="2.2"/>
<text x="432.30" y="167.60" font-size="9.6" text-anchor="middle" font-weight="bold">-2</text>
<line x1="471.10" y1="151.60" x2="471.10" y2="156.60" stroke="#000" stroke-width="2.2"/>
<text x="471.10" y="167.60" font-size="9.6" text-anchor="middle" font-weight="bold">0</text>
<line x1="509.90" y1="151.60" x2="509.90" y2="156.60" stroke="#000" stroke-width="2.2"/>
<text x="509.90" y="167.60" font-size="9.6" text-anchor="middle" font-weight="bold">2</text>
<line x1="548.60" y1="151.60" x2="548.60" y2="156.60" stroke="#000" stroke-width="2.2"/>
<text x="548.60" y="167.60" font-size="9.6" text-anchor="middle" font-weight="bold">4</text>
<text transform="translate(327.50,87.40) rotate(-90)" x="0" y="0" font-size="11.2" text-anchor="middle" font-weight="bold">PSI</text>
<text x="399.40" y="182.20" font-size="10.3" font-weight="bold">-ΔCt(Snord67/Gapdh)</text>
<text x="363.8" y="28.9" font-size="13.8"><tspan font-style="italic">r</tspan><tspan dx="2.8"> = 0.46</tspan></text>
<text x="363.8" y="46" font-size="13.8"><tspan font-style="italic">p</tspan> = 0.0009</text>
<line x1="603.00" y1="21.90" x2="603.00" y2="147.40" stroke="#000" stroke-width="2.2"/>
<line x1="597.60" y1="23.00" x2="603.00" y2="23.00" stroke="#000" stroke-width="2.2"/>
<text x="596.10" y="26.40" font-size="9.6" text-anchor="end" font-weight="bold">1.5</text>
<line x1="597.60" y1="64.80" x2="603.00" y2="64.80" stroke="#000" stroke-width="2.2"/>
<text x="596.10" y="68.20" font-size="9.6" text-anchor="end" font-weight="bold">1.0</text>
<line x1="597.60" y1="105.60" x2="603.00" y2="105.60" stroke="#000" stroke-width="2.2"/>
<text x="596.10" y="109.00" font-size="9.6" text-anchor="end" font-weight="bold">0.5</text>
<line x1="597.60" y1="146.30" x2="603.00" y2="146.30" stroke="#000" stroke-width="2.2"/>
<text x="596.10" y="149.70" font-size="9.6" text-anchor="end" font-weight="bold">0.0</text>
<line x1="603.00" y1="146.30" x2="685.00" y2="146.30" stroke="#000" stroke-width="2.2"/>
<line x1="626.00" y1="146.30" x2="626.00" y2="151.30" stroke="#000" stroke-width="2.2"/>
<line x1="661.20" y1="146.30" x2="661.20" y2="151.30" stroke="#000" stroke-width="2.2"/>
<path d="M626,80.4 L626,49.6 L661.2,49.6 L661.2,57" fill="none" stroke="#000" stroke-width="2.2"/>
<path d="M636.20,37.60 L636.20,44.40 M633.45,39.00 L638.95,43.00 M633.45,43.00 L638.95,39.00 M643.70,37.60 L643.70,44.40 M640.95,39.00 L646.45,43.00 M640.95,43.00 L646.45,39.00 M651.40,37.60 L651.40,44.40 M648.65,39.00 L654.15,43.00 M648.65,43.00 L654.15,39.00 " stroke="#000" stroke-width="1.6" fill="none"/>
<text transform="translate(575.80,85.00) rotate(-90)" x="0" y="0" font-size="9.9" text-anchor="middle" font-weight="bold">PSI</text>
<g fill="#000"><circle cx="626.3" cy="87.3" r="1.65"/><circle cx="626.3" cy="91.8" r="1.65"/><circle cx="626.3" cy="106.3" r="1.65"/><circle cx="626.3" cy="114.5" r="1.65"/><circle cx="623.1" cy="119.5" r="1.65"/><circle cx="626.3" cy="119.8" r="1.65"/><circle cx="629.5" cy="119.5" r="1.65"/><circle cx="616.4" cy="130.5" r="1.65"/><circle cx="619.6" cy="131.2" r="1.65"/><circle cx="622.5" cy="131.2" r="1.65"/><circle cx="626.3" cy="130.5" r="1.65"/><circle cx="629.5" cy="130.5" r="1.65"/><circle cx="633.0" cy="130.8" r="1.65"/><circle cx="636.3" cy="130.5" r="1.65"/><circle cx="619.6" cy="132.5" r="1.65"/><circle cx="626.3" cy="132.5" r="1.65"/><circle cx="629.5" cy="134.3" r="1.65"/><circle cx="633.0" cy="134.8" r="1.65"/><circle cx="619.6" cy="137.8" r="1.65"/><circle cx="623.1" cy="137.3" r="1.65"/><circle cx="626.3" cy="138.4" r="1.65"/><circle cx="629.5" cy="138.4" r="1.65"/><circle cx="623.1" cy="141.0" r="1.65"/><circle cx="629.5" cy="140.3" r="1.65"/><circle cx="633.0" cy="140.6" r="1.65"/><circle cx="623.1" cy="144.6" r="1.65"/><circle cx="629.5" cy="143.7" r="1.65"/></g>
<g fill="#000"><circle cx="661.1" cy="64.8" r="1.65"/><circle cx="661.1" cy="72.6" r="1.65"/><circle cx="671.2" cy="88.2" r="1.65"/><circle cx="658.1" cy="90.5" r="1.65"/><circle cx="664.6" cy="91.3" r="1.65"/><circle cx="651.7" cy="99.6" r="1.65"/><circle cx="658.1" cy="99.3" r="1.65"/><circle cx="664.6" cy="100.4" r="1.65"/><circle cx="671.2" cy="101.3" r="1.65"/><circle cx="651.7" cy="105.9" r="1.65"/><circle cx="658.1" cy="104.3" r="1.65"/><circle cx="671.2" cy="107.8" r="1.65"/><circle cx="651.7" cy="110.3" r="1.65"/><circle cx="658.1" cy="111.5" r="1.65"/><circle cx="664.6" cy="111.0" r="1.65"/><circle cx="671.2" cy="109.5" r="1.65"/><circle cx="651.7" cy="115.0" r="1.65"/><circle cx="658.1" cy="116.0" r="1.65"/><circle cx="671.2" cy="114.2" r="1.65"/><circle cx="661.3" cy="120.0" r="1.65"/><circle cx="661.3" cy="131.4" r="1.65"/><circle cx="658.1" cy="136.4" r="1.65"/><circle cx="664.6" cy="135.5" r="1.65"/><circle cx="658.1" cy="141.1" r="1.65"/><circle cx="664.6" cy="140.4" r="1.65"/></g>
<line x1="614.90" y1="131.00" x2="637.60" y2="131.00" stroke="#000" stroke-width="2.0"/>
<line x1="650.00" y1="109.30" x2="673.00" y2="109.30" stroke="#000" stroke-width="2.0"/>
<text transform="translate(628.3,157.6) rotate(-47.5)" font-size="9.3" font-weight="bold" text-anchor="end">Low Snord67</text>
<text transform="translate(663.4,158.3) rotate(-47.5)" font-size="9.3" font-weight="bold" text-anchor="end">High Snord67</text>
<line x1="357.00" y1="258.60" x2="548.00" y2="258.60" stroke="#000" stroke-width="1.8" stroke-dasharray="1.6,2.2"/>
<line x1="484.10" y1="194.50" x2="484.10" y2="322.00" stroke="#000" stroke-width="1.8" stroke-dasharray="1.6,2.2"/>
<g fill="#000"><circle cx="544.4" cy="224.7" r="2.35"/><circle cx="457.2" cy="236.9" r="2.35"/><circle cx="496.9" cy="239.4" r="2.35"/><circle cx="514.0" cy="240.8" r="2.35"/><circle cx="479.4" cy="246.2" r="2.35"/><circle cx="493.4" cy="249.2" r="2.35"/><circle cx="455.4" cy="254.8" r="2.35"/><circle cx="462.6" cy="253.4" r="2.35"/><circle cx="474.7" cy="254.1" r="2.35"/><circle cx="482.2" cy="253.4" r="2.35"/><circle cx="485.3" cy="255.6" r="2.35"/><circle cx="492.3" cy="253.2" r="2.35"/><circle cx="421.5" cy="258.4" r="2.35"/><circle cx="456.8" cy="261.4" r="2.35"/><circle cx="480.6" cy="260.2" r="2.35"/><circle cx="489.2" cy="269.6" r="2.35"/><circle cx="499.7" cy="274.7" r="2.35"/><circle cx="425.7" cy="277.7" r="2.35"/><circle cx="435.0" cy="284.3" r="2.35"/><circle cx="492.7" cy="283.1" r="2.35"/><circle cx="459.8" cy="288.7" r="2.35"/><circle cx="479.9" cy="290.8" r="2.35"/><circle cx="473.3" cy="298.5" r="2.35"/><circle cx="405.6" cy="311.1" r="2.35"/></g>
<line x1="405.10" y1="289.00" x2="545.40" y2="236.90" stroke="#000" stroke-width="2.2"/>
<line x1="356.20" y1="193.30" x2="356.20" y2="324.20" stroke="#000" stroke-width="2.2"/>
<line x1="350.80" y1="194.40" x2="356.20" y2="194.40" stroke="#000" stroke-width="2.2"/>
<text x="349.30" y="197.80" font-size="9.6" text-anchor="end" font-weight="bold">1.0</text>
<line x1="350.80" y1="226.60" x2="356.20" y2="226.60" stroke="#000" stroke-width="2.2"/>
<text x="349.30" y="230.00" font-size="9.6" text-anchor="end" font-weight="bold">0.5</text>
<line x1="350.80" y1="258.80" x2="356.20" y2="258.80" stroke="#000" stroke-width="2.2"/>
<text x="349.30" y="262.20" font-size="9.6" text-anchor="end" font-weight="bold">0.0</text>
<line x1="350.80" y1="291.00" x2="356.20" y2="291.00" stroke="#000" stroke-width="2.2"/>
<text x="349.30" y="294.40" font-size="9.6" text-anchor="end" font-weight="bold">-0.5</text>
<line x1="350.80" y1="323.10" x2="356.20" y2="323.10" stroke="#000" stroke-width="2.2"/>
<text x="349.30" y="326.50" font-size="9.6" text-anchor="end" font-weight="bold">-1.0</text>
<line x1="355.10" y1="323.10" x2="548.90" y2="323.10" stroke="#000" stroke-width="2.2"/>
<line x1="356.20" y1="323.10" x2="356.20" y2="328.10" stroke="#000" stroke-width="2.2"/>
<text x="356.20" y="339.10" font-size="9.6" text-anchor="middle" font-weight="bold">-10</text>
<line x1="420.10" y1="323.10" x2="420.10" y2="328.10" stroke="#000" stroke-width="2.2"/>
<text x="420.10" y="339.10" font-size="9.6" text-anchor="middle" font-weight="bold">-5</text>
<line x1="484.00" y1="323.10" x2="484.00" y2="328.10" stroke="#000" stroke-width="2.2"/>
<text x="484.00" y="339.10" font-size="9.6" text-anchor="middle" font-weight="bold">0</text>
<line x1="547.80" y1="323.10" x2="547.80" y2="328.10" stroke="#000" stroke-width="2.2"/>
<text x="547.80" y="339.10" font-size="9.6" text-anchor="middle" font-weight="bold">5</text>
<text transform="translate(325.20,259.00) rotate(-90)" x="0" y="0" font-size="10.4" text-anchor="middle" font-weight="bold">ΔPSI(LN-primary)</text>
<text x="375.90" y="351.60" font-size="10.3" font-weight="bold">-ΔΔCt(LN-primary) for Snord67</text>
<text x="362.6" y="203.5" font-size="13.8"><tspan font-style="italic">r</tspan><tspan dx="0"> = 0.54</tspan></text>
<text x="362.6" y="219.8" font-size="13.8"><tspan font-style="italic">p</tspan> = 0.0066</text>
<text x="302.00" y="370.70" font-size="21.6" font-weight="bold">D</text>
<text x="362.6" y="373.6" font-size="13.5" font-weight="bold"><tspan font-style="italic">NFYA</tspan> exon 3</text>
<line x1="440.40" y1="379.50" x2="440.40" y2="509.00" stroke="#000" stroke-width="1.8" stroke-dasharray="1.6,2.2"/>
<g fill="#000"><circle cx="440.4" cy="423.8" r="2.35"/><circle cx="454.1" cy="423.8" r="2.35"/><circle cx="406.2" cy="442.3" r="2.35"/><circle cx="430.3" cy="470.9" r="2.35"/><circle cx="433.2" cy="470.4" r="2.35"/><circle cx="456.0" cy="468.3" r="2.35"/><circle cx="450.4" cy="474.1" r="2.35"/><circle cx="456.0" cy="475.2" r="2.35"/><circle cx="420.7" cy="476.8" r="2.35"/><circle cx="423.9" cy="480.8" r="2.35"/><circle cx="379.2" cy="487.3" r="2.35"/><circle cx="433.2" cy="485.7" r="2.35"/><circle cx="439.1" cy="484.4" r="2.35"/><circle cx="442.7" cy="488.1" r="2.35"/><circle cx="452.8" cy="492.9" r="2.35"/><circle cx="418.3" cy="493.4" r="2.35"/><circle cx="431.9" cy="494.2" r="2.35"/><circle cx="430.3" cy="497.7" r="2.35"/><circle cx="419.4" cy="498.8" r="2.35"/><circle cx="411.0" cy="497.7" r="2.35"/><circle cx="412.3" cy="501.7" r="2.35"/><circle cx="404.6" cy="500.1" r="2.35"/><circle cx="406.5" cy="502.2" r="2.35"/><circle cx="399.8" cy="498.5" r="2.35"/><circle cx="397.4" cy="502.5" r="2.35"/><circle cx="395.8" cy="504.9" r="2.35"/><circle cx="439.1" cy="499.3" r="2.35"/><circle cx="435.1" cy="506.5" r="2.35"/><circle cx="399.5" cy="507.8" r="2.35"/><circle cx="413.0" cy="509.4" r="2.35"/><circle cx="440.7" cy="509.7" r="2.35"/><circle cx="456.8" cy="509.4" r="2.35"/><circle cx="363.7" cy="506.9" r="2.35"/><circle cx="376.5" cy="506.9" r="2.35"/><circle cx="501.7" cy="424.3" r="2.35"/><circle cx="500.6" cy="440.4" r="2.35"/><circle cx="540.7" cy="458.8" r="2.35"/><circle cx="464.5" cy="470.4" r="2.35"/><circle cx="477.0" cy="472.5" r="2.35"/><circle cx="492.2" cy="483.6" r="2.35"/><circle cx="492.2" cy="490.8" r="2.35"/><circle cx="485.7" cy="495.6" r="2.35"/><circle cx="470.4" cy="500.6" r="2.35"/></g>
<line x1="365.30" y1="508.10" x2="541.50" y2="452.70" stroke="#000" stroke-width="2.2"/>
<line x1="353.20" y1="380.80" x2="353.20" y2="510.60" stroke="#000" stroke-width="2.2"/>
<line x1="347.80" y1="381.90" x2="353.20" y2="381.90" stroke="#000" stroke-width="2.2"/>
<text x="346.30" y="385.30" font-size="9.6" text-anchor="end" font-weight="bold">1.5</text>
<line x1="347.80" y1="424.30" x2="353.20" y2="424.30" stroke="#000" stroke-width="2.2"/>
<text x="346.30" y="427.70" font-size="9.6" text-anchor="end" font-weight="bold">1.0</text>
<line x1="347.80" y1="466.90" x2="353.20" y2="466.90" stroke="#000" stroke-width="2.2"/>
<text x="346.30" y="470.30" font-size="9.6" text-anchor="end" font-weight="bold">0.5</text>
<line x1="347.80" y1="509.50" x2="353.20" y2="509.50" stroke="#000" stroke-width="2.2"/>
<text x="346.30" y="512.90" font-size="9.6" text-anchor="end" font-weight="bold">0.0</text>
<line x1="352.10" y1="509.50" x2="546.30" y2="509.50" stroke="#000" stroke-width="2.2"/>
<line x1="353.20" y1="509.50" x2="353.20" y2="514.50" stroke="#000" stroke-width="2.2"/>
<text x="353.20" y="525.50" font-size="9.6" text-anchor="middle" font-weight="bold">-6</text>
<line x1="391.60" y1="509.50" x2="391.60" y2="514.50" stroke="#000" stroke-width="2.2"/>
<text x="391.60" y="525.50" font-size="9.6" text-anchor="middle" font-weight="bold">-4</text>
<line x1="430.00" y1="509.50" x2="430.00" y2="514.50" stroke="#000" stroke-width="2.2"/>
<text x="430.00" y="525.50" font-size="9.6" text-anchor="middle" font-weight="bold">-2</text>
<line x1="468.40" y1="509.50" x2="468.40" y2="514.50" stroke="#000" stroke-width="2.2"/>
<text x="468.40" y="525.50" font-size="9.6" text-anchor="middle" font-weight="bold">0</text>
<line x1="506.80" y1="509.50" x2="506.80" y2="514.50" stroke="#000" stroke-width="2.2"/>
<text x="506.80" y="525.50" font-size="9.6" text-anchor="middle" font-weight="bold">2</text>
<line x1="545.20" y1="509.50" x2="545.20" y2="514.50" stroke="#000" stroke-width="2.2"/>
<text x="545.20" y="525.50" font-size="9.6" text-anchor="middle" font-weight="bold">4</text>
<text transform="translate(326.10,445.80) rotate(-90)" x="0" y="0" font-size="11.2" text-anchor="middle" font-weight="bold">PSI</text>
<text x="397.60" y="539.80" font-size="10.3" font-weight="bold">-ΔCt(Snord67/Gapdh)</text>
<text x="362.6" y="390.7" font-size="13.8"><tspan font-style="italic">r</tspan><tspan dx="0"> = 0.49</tspan></text>
<text x="362.6" y="405.9" font-size="13.8"><tspan font-style="italic">p</tspan> = 0.0006</text>
<line x1="599.10" y1="387.50" x2="599.10" y2="510.80" stroke="#000" stroke-width="2.2"/>
<line x1="593.70" y1="388.60" x2="599.10" y2="388.60" stroke="#000" stroke-width="2.2"/>
<text x="592.20" y="392.00" font-size="9.6" text-anchor="end" font-weight="bold">1.2</text>
<line x1="593.70" y1="429.00" x2="599.10" y2="429.00" stroke="#000" stroke-width="2.2"/>
<text x="592.20" y="432.40" font-size="9.6" text-anchor="end" font-weight="bold">0.8</text>
<line x1="593.70" y1="469.40" x2="599.10" y2="469.40" stroke="#000" stroke-width="2.2"/>
<text x="592.20" y="472.80" font-size="9.6" text-anchor="end" font-weight="bold">0.4</text>
<line x1="593.70" y1="509.70" x2="599.10" y2="509.70" stroke="#000" stroke-width="2.2"/>
<text x="592.20" y="513.10" font-size="9.6" text-anchor="end" font-weight="bold">0.0</text>
<line x1="599.10" y1="509.70" x2="679.00" y2="509.70" stroke="#000" stroke-width="2.2"/>
<line x1="621.80" y1="509.70" x2="621.80" y2="514.70" stroke="#000" stroke-width="2.2"/>
<line x1="656.50" y1="509.70" x2="656.50" y2="514.70" stroke="#000" stroke-width="2.2"/>
<path d="M621.7,423.7 L621.7,394 L656.5,394 L656.5,402.4" fill="none" stroke="#000" stroke-width="2.2"/>
<path d="M635.50,381.90 L635.50,389.10 M632.59,383.38 L638.41,387.62 M632.59,387.62 L638.41,383.38 M643.00,381.90 L643.00,389.10 M640.09,383.38 L645.91,387.62 M640.09,387.62 L645.91,383.38 " stroke="#000" stroke-width="1.6" fill="none"/>
<text transform="translate(572.30,449.30) rotate(-90)" x="0" y="0" font-size="9.9" text-anchor="middle" font-weight="bold">PSI</text>
<g fill="#000"><circle cx="621.6" cy="429.9" r="1.65"/><circle cx="620.4" cy="463.2" r="1.65"/><circle cx="623.7" cy="464.0" r="1.65"/><circle cx="621.8" cy="471.4" r="1.65"/><circle cx="621.8" cy="475.7" r="1.65"/><circle cx="618.7" cy="483.6" r="1.65"/><circle cx="621.8" cy="482.1" r="1.65"/><circle cx="625.1" cy="481.3" r="1.65"/><circle cx="628.4" cy="480.6" r="1.65"/><circle cx="618.7" cy="491.1" r="1.65"/><circle cx="621.8" cy="491.5" r="1.65"/><circle cx="625.1" cy="490.6" r="1.65"/><circle cx="612.0" cy="495.5" r="1.65"/><circle cx="615.2" cy="496.7" r="1.65"/><circle cx="618.5" cy="496.7" r="1.65"/><circle cx="621.8" cy="496.5" r="1.65"/><circle cx="625.1" cy="496.1" r="1.65"/><circle cx="628.4" cy="496.7" r="1.65"/><circle cx="631.5" cy="497.3" r="1.65"/><circle cx="615.2" cy="498.5" r="1.65"/><circle cx="628.4" cy="498.2" r="1.65"/><circle cx="631.5" cy="498.2" r="1.65"/><circle cx="618.7" cy="501.2" r="1.65"/><circle cx="621.8" cy="501.2" r="1.65"/><circle cx="625.1" cy="500.5" r="1.65"/><circle cx="628.4" cy="500.5" r="1.65"/><circle cx="618.7" cy="504.1" r="1.65"/><circle cx="628.4" cy="504.3" r="1.65"/><circle cx="618.7" cy="506.5" r="1.65"/><circle cx="621.8" cy="506.8" r="1.65"/><circle cx="625.1" cy="507.1" r="1.65"/><circle cx="615.2" cy="507.8" r="1.65"/><circle cx="628.4" cy="510.1" r="1.65"/></g>
<g fill="#000"><circle cx="649.3" cy="408.7" r="1.65"/><circle cx="656.6" cy="408.7" r="1.65"/><circle cx="664.0" cy="408.7" r="1.65"/><circle cx="656.6" cy="428.1" r="1.65"/><circle cx="656.4" cy="450.6" r="1.65"/><circle cx="656.4" cy="461.3" r="1.65"/><circle cx="649.3" cy="463.2" r="1.65"/><circle cx="656.4" cy="466.4" r="1.65"/><circle cx="663.6" cy="468.7" r="1.65"/><circle cx="649.3" cy="468.1" r="1.65"/><circle cx="656.4" cy="478.6" r="1.65"/><circle cx="663.6" cy="484.2" r="1.65"/><circle cx="656.4" cy="487.4" r="1.65"/><circle cx="649.3" cy="490.1" r="1.65"/><circle cx="656.4" cy="493.2" r="1.65"/><circle cx="656.4" cy="499.0" r="1.65"/><circle cx="653.1" cy="509.4" r="1.65"/><circle cx="660.1" cy="509.6" r="1.65"/></g>
<line x1="610.40" y1="495.70" x2="633.20" y2="495.70" stroke="#000" stroke-width="2.0"/>
<line x1="645.40" y1="468.60" x2="667.70" y2="468.60" stroke="#000" stroke-width="2.0"/>
<text transform="translate(624.4,521.9) rotate(-47.5)" font-size="9.3" font-weight="bold" text-anchor="end">Low Snord67</text>
<text transform="translate(659.0,522.6) rotate(-47.5)" font-size="9.3" font-weight="bold" text-anchor="end">High Snord67</text>
<line x1="357.00" y1="640.00" x2="546.00" y2="640.00" stroke="#000" stroke-width="1.8" stroke-dasharray="1.6,2.2"/>
<line x1="482.90" y1="564.00" x2="482.90" y2="690.00" stroke="#000" stroke-width="1.8" stroke-dasharray="1.6,2.2"/>
<g fill="#000"><circle cx="542.5" cy="590.5" r="2.35"/><circle cx="495.3" cy="608.5" r="2.35"/><circle cx="498.1" cy="620.9" r="2.35"/><circle cx="490.6" cy="629.8" r="2.35"/><circle cx="492.3" cy="631.9" r="2.35"/><circle cx="459.1" cy="634.9" r="2.35"/><circle cx="456.1" cy="637.9" r="2.35"/><circle cx="461.9" cy="640.3" r="2.35"/><circle cx="454.9" cy="641.9" r="2.35"/><circle cx="454.4" cy="643.1" r="2.35"/><circle cx="472.4" cy="640.3" r="2.35"/><circle cx="474.7" cy="641.2" r="2.35"/><circle cx="479.0" cy="640.3" r="2.35"/><circle cx="479.0" cy="642.6" r="2.35"/><circle cx="487.6" cy="639.6" r="2.35"/><circle cx="479.4" cy="645.9" r="2.35"/><circle cx="481.1" cy="651.2" r="2.35"/><circle cx="484.1" cy="656.6" r="2.35"/><circle cx="491.1" cy="673.4" r="2.35"/><circle cx="512.8" cy="647.3" r="2.35"/><circle cx="405.1" cy="653.1" r="2.35"/><circle cx="421.5" cy="650.1" r="2.35"/><circle cx="425.2" cy="649.6" r="2.35"/><circle cx="434.6" cy="648.2" r="2.35"/></g>
<line x1="404.70" y1="659.00" x2="543.00" y2="620.40" stroke="#000" stroke-width="2.2"/>
<line x1="356.20" y1="562.80" x2="356.20" y2="692.00" stroke="#000" stroke-width="2.2"/>
<line x1="350.80" y1="563.90" x2="356.20" y2="563.90" stroke="#000" stroke-width="2.2"/>
<text x="349.30" y="567.30" font-size="9.6" text-anchor="end" font-weight="bold">1.5</text>
<line x1="350.80" y1="589.30" x2="356.20" y2="589.30" stroke="#000" stroke-width="2.2"/>
<text x="349.30" y="592.70" font-size="9.6" text-anchor="end" font-weight="bold">1.0</text>
<line x1="350.80" y1="614.80" x2="356.20" y2="614.80" stroke="#000" stroke-width="2.2"/>
<text x="349.30" y="618.20" font-size="9.6" text-anchor="end" font-weight="bold">0.5</text>
<line x1="350.80" y1="640.00" x2="356.20" y2="640.00" stroke="#000" stroke-width="2.2"/>
<text x="349.30" y="643.40" font-size="9.6" text-anchor="end" font-weight="bold">0.0</text>
<line x1="350.80" y1="665.40" x2="356.20" y2="665.40" stroke="#000" stroke-width="2.2"/>
<text x="349.30" y="668.80" font-size="9.6" text-anchor="end" font-weight="bold">-0.5</text>
<line x1="350.80" y1="690.90" x2="356.20" y2="690.90" stroke="#000" stroke-width="2.2"/>
<text x="349.30" y="694.30" font-size="9.6" text-anchor="end" font-weight="bold">-1.0</text>
<line x1="355.10" y1="690.90" x2="547.00" y2="690.90" stroke="#000" stroke-width="2.2"/>
<line x1="356.20" y1="690.90" x2="356.20" y2="695.90" stroke="#000" stroke-width="2.2"/>
<text x="356.20" y="706.90" font-size="9.6" text-anchor="middle" font-weight="bold">-10</text>
<line x1="419.50" y1="690.90" x2="419.50" y2="695.90" stroke="#000" stroke-width="2.2"/>
<text x="419.50" y="706.90" font-size="9.6" text-anchor="middle" font-weight="bold">-5</text>
<line x1="482.90" y1="690.90" x2="482.90" y2="695.90" stroke="#000" stroke-width="2.2"/>
<text x="482.90" y="706.90" font-size="9.6" text-anchor="middle" font-weight="bold">0</text>
<line x1="545.90" y1="690.90" x2="545.90" y2="695.90" stroke="#000" stroke-width="2.2"/>
<text x="545.90" y="706.90" font-size="9.6" text-anchor="middle" font-weight="bold">5</text>
<text transform="translate(325.70,627.20) rotate(-90)" x="0" y="0" font-size="10.4" text-anchor="middle" font-weight="bold">ΔPSI(LN-primary)</text>
<text x="375.90" y="723.20" font-size="10.3" font-weight="bold">-ΔΔCt(LN-primary) for Snord67</text>
<text x="362.6" y="573.4" font-size="13.8"><tspan font-style="italic">r</tspan><tspan dx="0"> = 0.52</tspan></text>
<text x="362.6" y="589.3" font-size="13.8"><tspan font-style="italic">p</tspan> = 0.011</text>
<text x="-1.60" y="747.00" font-size="21.6" font-weight="bold">E</text>
<path d="M23.60,775.10 L23.60,768.20 L21.50,768.20 L25.40,761.70 L29.30,768.20 L27.20,768.20 L27.20,775.10 Z" fill="#222"/>
<text x="31.80" y="771.90" font-size="11.4" fill="#222">Snord67</text>
<text x="50.60" y="791.60" font-size="11.4" text-anchor="middle" font-weight="bold" fill="#cc2f3c">Lymph node</text>
<text x="50.40" y="802.80" font-size="11.4" text-anchor="middle" font-weight="bold" fill="#cc2f3c">metastasis</text>
<path d="M23.60,844.60 L23.60,851.50 L21.50,851.50 L25.40,858.00 L29.30,851.50 L27.20,851.50 L27.20,844.60 Z" fill="#222"/>
<text x="31.80" y="853.90" font-size="11.4" fill="#222">Snord67</text>
<text x="67.90" y="751.30" font-size="9.9" fill="#a4588f">Snord67</text>
<path d="M114.1,763.7 L114.1,755.0 A9.9,9.9 0 1,1 123.8,755.0 L123.8,763.7" fill="none" stroke="#a4588f" stroke-width="1.5"/>
<path d="M114.1,763.7 A17.9,17.9 0 0,0 114.1,797.9 L114.1,808.3 M123.8,763.7 A17.9,17.9 0 0,1 123.8,797.9 L123.8,808.3" fill="none" stroke="#a4588f" stroke-width="1.5"/>
<line x1="114.10" y1="758.00" x2="123.80" y2="758.00" stroke="#d6a9cb" stroke-width="0.8"/>
<line x1="114.10" y1="760.90" x2="123.80" y2="760.90" stroke="#a4588f" stroke-width="0.8"/>
<line x1="114.10" y1="801.20" x2="123.80" y2="801.20" stroke="#a4588f" stroke-width="0.8"/>
<line x1="114.10" y1="803.00" x2="123.80" y2="803.00" stroke="#a4588f" stroke-width="0.8"/>
<line x1="114.10" y1="805.10" x2="123.80" y2="805.10" stroke="#a4588f" stroke-width="0.8"/>
<line x1="94.20" y1="808.30" x2="114.10" y2="808.30" stroke="#a4588f" stroke-width="1.5"/>
<line x1="123.80" y1="808.30" x2="144.60" y2="808.30" stroke="#a4588f" stroke-width="1.5"/>
<line x1="135.30" y1="788.08" x2="138.87" y2="789.67" stroke="#a4588f" stroke-width="0.8"/>
<line x1="134.05" y1="790.42" x2="137.34" y2="792.51" stroke="#a4588f" stroke-width="0.8"/>
<line x1="132.46" y1="792.54" x2="135.40" y2="795.10" stroke="#a4588f" stroke-width="0.8"/>
<line x1="130.58" y1="794.41" x2="133.11" y2="797.38" stroke="#a4588f" stroke-width="0.8"/>
<line x1="128.44" y1="795.98" x2="130.50" y2="799.29" stroke="#a4588f" stroke-width="0.8"/>
<line x1="126.09" y1="797.22" x2="127.64" y2="800.79" stroke="#a4588f" stroke-width="0.8"/>
<path d="M114.3,815.5 C117.5,808 121.5,804.5 126.5,802.6 C131,800.8 135,799.3 137.5,797.3 C140.5,794.5 142,790 143.0,781 C144.5,773 150,766 159.6,763.9" fill="none" stroke="#2e3b87" stroke-width="1.5"/>
<path d="M113.4,823.5 C113.6,821 113.9,818 114.3,815.5" fill="none" stroke="#2e3b87" stroke-width="1.5"/>
<circle cx="137.20" cy="797.40" r="2.50" fill="#d8363f"/>
<text x="150.60" y="758.10" font-size="10.8" fill="#2e3b87">U6</text>
<path d="M113.4,893.5 C114,878 120,872 128,866 C136,860 137,854 140,845 C144,838 150,835 159.9,833.9" fill="none" stroke="#2e3b87" stroke-width="1.5"/>
<text x="150.60" y="828.00" font-size="10.8" fill="#2e3b87">U6</text>
<line x1="161.90" y1="784.10" x2="180.00" y2="784.10" stroke="#222" stroke-width="1.2"/>
<path d="M185.00,784.10 L179.50,781.50 L179.50,786.70 Z" fill="#222"/>
<line x1="161.90" y1="854.20" x2="180.00" y2="854.20" stroke="#222" stroke-width="1.2"/>
<path d="M185.00,854.20 L179.50,851.60 L179.50,856.80 Z" fill="#222"/>
<g id="spl"><path d="M200.8,799.4 L206.7,793.5 L210.5,784.0 L211.4,778.4 L216.0,772.0 L218.4,770.2 L223.0,764.3 L230.0,759.7 L235.9,763.2 L239.4,769.0 L248.7,766.7 L258.1,770.2 L255.7,778.4 L249.9,781.9 L251.1,790.0 L258.1,793.5 L265.1,797.0 L269.7,804.0 L269.7,811.0 L265.1,816.9 L251.1,818.1 L244.0,813.4 L239.4,815.7 L233.5,821.6 L227.7,821.6 L223.0,818.1 L218.4,813.4 L212.5,813.4 L206.7,811.0 L202.0,806.4 Z" fill="#c7cfdd"/><path d="M200.5,800.0 L207.0,797.0 L214.0,797.5 L219.0,801.0 L222.0,806.0 L221.0,812.0 L216.0,815.0 L209.0,814.0 L203.0,810.0 L200.5,805.0 Z" fill="#8797b6"/><path d="M249.5,799.0 L256.0,798.0 L263.0,799.0 L268.5,803.0 L270.0,809.0 L268.0,815.5 L262.0,818.2 L254.0,818.0 L250.0,813.0 L249.0,806.0 Z" fill="#6f82a6"/><path d="M246.0,769.0 L251.0,766.5 L257.0,768.0 L258.5,773.0 L255.0,778.0 L250.0,779.0 L246.5,775.0 Z" fill="#8797b6"/><path d="M212.0,777.0 L217.0,775.0 L222.0,776.0 L225.0,781.0 L224.0,788.0 L220.0,792.0 L214.0,791.0 L212.0,785.0 Z" fill="#8797b6"/><path d="M238.0,778.0 L243.0,776.5 L246.0,780.0 L244.0,785.0 L239.0,785.5 L236.5,782.0 Z" fill="#8797b6"/><path d="M232.0,804.0 L236.0,803.0 L237.0,812.0 L235.0,820.0 L232.0,819.0 L231.5,810.0 Z" fill="#8797b6"/><path d="M222.0,805.0 L226.0,803.5 L228.0,809.0 L226.0,813.0 L222.5,811.0 Z" fill="#8797b6"/><path d="M240.0,800.0 L244.0,799.0 L246.0,804.0 L243.0,808.0 L240.0,806.0 Z" fill="#8797b6"/><path d="M226.0,764.0 L231.0,761.5 L233.0,766.0 L229.0,769.0 L225.5,768.0 Z" fill="#d7dde8"/><path d="M182,800.4 C190,798.3 198,794.3 214,792.0" fill="none" stroke="#22aab4" stroke-width="1.6"/><path d="M182.6,798.3 C190.5,796.2 198.3,792.2 214,789.9" fill="none" stroke="#22aab4" stroke-width="3.0" stroke-dasharray="0.6,1.1"/><path d="M258,797.4 C265,800 272,800 280,796.6 C287,793.8 295,791.6 303.3,791.6" fill="none" stroke="#5ab552" stroke-width="1.6"/><path d="M259,795.3 C265.5,797.9 272,797.9 280,794.5 C287,791.7 295,789.5 303.3,789.5" fill="none" stroke="#5ab552" stroke-width="3.0" stroke-dasharray="0.6,1.1"/><path d="M226.88,769.38 A6.0,6.0 0 1,1 233.27,762.15" fill="none" stroke="#d42a3a" stroke-width="1.7"/><path d="M227.03,767.58 A4.2,4.2 0 1,1 231.51,762.53" fill="none" stroke="#d42a3a" stroke-width="2.6" stroke-dasharray="0.55,1.15"/><path d="M226.9,769.4 C231,772.6 241,773.4 249.5,771.6" fill="none" stroke="#d42a3a" stroke-width="1.7"/><path d="M228.2,767.6 C232,770.6 241,771.4 249.3,769.8" fill="none" stroke="#d42a3a" stroke-width="2.6" stroke-dasharray="0.55,1.15"/><path d="M249.52,770.50 A5.4,5.4 0 1,1 252.35,772.87" fill="none" stroke="#d42a3a" stroke-width="1.7"/><path d="M251.08,769.60 A3.6000000000000005,3.6000000000000005 0 1,1 252.97,771.18" fill="none" stroke="#d42a3a" stroke-width="2.6" stroke-dasharray="0.55,1.15"/><path d="M214.5,792.8 C219,793.5 221.5,791 220.5,786 C219.5,781 219.5,778 222,775.5 C223.5,772 219,768.5 215,771 C212.5,772.5 212,775 213,777" fill="none" stroke="#d42a3a" stroke-width="1.5"/><path d="M215,791.2 C218,791.5 219.6,790 218.7,786 C217.8,781 217.8,778 220.2,775.5" fill="none" stroke="#d42a3a" stroke-width="2.2" stroke-dasharray="0.5,1.2"/><path d="M215.6,773 C217,771.8 219.5,772 220,774" fill="none" stroke="#d42a3a" stroke-width="2.0" stroke-dasharray="0.5,1.1"/><path d="M256.75,798.52 A8.4,8.4 0 1,1 256.75,784.28" fill="none" stroke="#d42a3a" stroke-width="1.7"/><path d="M255.80,797.00 A6.6000000000000005,6.6000000000000005 0 1,1 255.80,785.80" fill="none" stroke="#d42a3a" stroke-width="2.6" stroke-dasharray="0.55,1.15"/><path d="M255.5,784 L257.2,777.5 M257.2,777.5 L259.5,776 M257.2,777.5 L255.5,775.3 M257.5,780 L260.5,779.8 M256.3,781.5 L259,783.2" fill="none" stroke="#d42a3a" stroke-width="0.9"/><path d="M207.3,812.5 L210.2,804.6 L216,798.8 L223,796.1 L229.5,795.6 L236.5,792.6 L241.1,788.9 L245,781.3 L250,774 L254,768.8 C258,765.5 261,765.3 265.3,765.0" fill="none" stroke="#2e3b87" stroke-width="1.4"/><circle cx="210.2" cy="804.6" r="2.5" fill="#cfe6da" stroke="#1e7a66" stroke-width="1.25"/><circle cx="216" cy="798.8" r="2.5" fill="#cfe6da" stroke="#1e7a66" stroke-width="1.25"/><circle cx="223" cy="796.1" r="2.5" fill="#cfe6da" stroke="#1e7a66" stroke-width="1.25"/><circle cx="229.5" cy="795.6" r="2.5" fill="#cfe6da" stroke="#1e7a66" stroke-width="1.25"/><circle cx="241.1" cy="788.9" r="2.5" fill="#cfe6da" stroke="#1e7a66" stroke-width="1.25"/><circle cx="245" cy="781.3" r="2.5" fill="#cfe6da" stroke="#1e7a66" stroke-width="1.25"/><circle cx="254" cy="768.8" r="2.5" fill="#cfe6da" stroke="#1e7a66" stroke-width="1.25"/></g>
<circle cx="236.50" cy="792.60" r="2.40" fill="#e0474e"/>
<use href="#spl" transform="translate(0,70.2)"/>
<text x="211.80" y="751.00" font-size="9.9" fill="#6f84ab">Spliceosome</text>
<text x="270.20" y="766.60" font-size="10.8" fill="#2e3b87">U6</text>
<text x="270.20" y="837.20" font-size="10.8" fill="#2e3b87">U6</text>
<text x="276.60" y="809.40" font-size="9.9" fill="#5ab552">pre-mRNA</text>
<circle cx="278.80" cy="742.30" r="2.40" fill="#d8363f"/>
<circle cx="278.8" cy="752.3" r="1.9" fill="#d6ebe0" stroke="#1e7a66" stroke-width="1.1"/>
<text x="285.2" y="744.6" font-size="9.95" fill="#cc2f3c">Snord67-guided 2'-<tspan font-style="italic">O</tspan>-methylation at C60</text>
<text x="285.2" y="754.8" font-size="9.9" fill="#1e7a66">Other U6 2'-<tspan font-style="italic">O</tspan>-methylation sites</text>
<line x1="297.70" y1="785.70" x2="315.00" y2="785.70" stroke="#222" stroke-width="1.2"/>
<path d="M320.00,785.70 L314.50,783.10 L314.50,788.30 Z" fill="#222"/>
<line x1="297.70" y1="856.00" x2="315.00" y2="856.00" stroke="#222" stroke-width="1.2"/>
<path d="M320.00,856.00 L314.50,853.40 L314.50,858.60 Z" fill="#222"/>
<line x1="351.20" y1="785.00" x2="412.00" y2="785.00" stroke="#8e9696" stroke-width="3.0"/>
<rect x="327.90" y="781.00" width="23.30" height="8.00" fill="#7d64a0"/>
<rect x="358.90" y="781.00" width="19.80" height="8.00" fill="#4a3e8c"/>
<rect x="387.40" y="781.00" width="15.80" height="8.00" fill="#d35d7e"/>
<rect x="412.00" y="781.00" width="22.80" height="8.00" fill="#9c2160"/>
<path d="M378.7,781 L383.1,775.4 L387.4,781 M403.2,781 L407.6,775.4 L412,781" fill="none" stroke="#333" stroke-width="0.9"/>
<path d="M351.2,789 L355,795 L358.9,789 M378.7,789 L395.3,796.8 L412,789" fill="none" stroke="#333" stroke-width="0.9" stroke-dasharray="1.2,1.2"/>
<text x="349.60" y="766.70" font-size="9.9" fill="#222">mRNA splicing</text>
<line x1="352.70" y1="855.45" x2="414.00" y2="855.45" stroke="#8e9696" stroke-width="3.0"/>
<rect x="330.20" y="851.60" width="22.50" height="7.70" fill="#7d64a0"/>
<rect x="361.50" y="851.60" width="19.40" height="7.70" fill="#4a3e8c"/>
<rect x="389.50" y="851.60" width="15.90" height="7.70" fill="#d35d7e"/>
<rect x="414.00" y="851.60" width="23.10" height="7.70" fill="#9c2160"/>
<path d="M352.7,859.3 L356.8,865.5 L361.5,859.3 M380.9,859.3 L397.3,866.9 L414,859.3" fill="none" stroke="#333" stroke-width="0.9"/>
<path d="M380.9,851.6 L385,845.4 L389.5,851.6 M405.4,851.6 L409.5,845.4 L414,851.6" fill="none" stroke="#333" stroke-width="0.9" stroke-dasharray="1.2,1.2"/>
<text x="326.10" y="837.70" font-size="9.85" font-weight="bold" fill="#222">Altered splicing landscape</text>
<text x="385.40" y="878.50" font-size="9.75" text-anchor="middle" fill="#222">Decreased intron retention</text>
<text x="386.30" y="888.20" font-size="9.7" text-anchor="middle" fill="#222">Altered cassette exon inclusion</text>
<line x1="447.40" y1="784.80" x2="466.00" y2="784.80" stroke="#222" stroke-width="1.2"/>
<path d="M471.00,784.80 L465.50,782.20 L465.50,787.40 Z" fill="#222"/>
<line x1="447.40" y1="855.40" x2="466.00" y2="855.40" stroke="#222" stroke-width="1.2"/>
<path d="M471.00,855.40 L465.50,852.80 L465.50,858.00 Z" fill="#222"/>
<path d="M479.50,797.20 L479.50,780.50 L477.30,780.50 L481.40,773.50 L485.50,780.50 L483.30,780.50 L483.30,797.20 Z" fill="#2a2a2a"/>
<path d="M479.50,843.80 L479.50,860.20 L477.30,860.20 L481.40,867.20 L485.50,860.20 L483.30,860.20 L483.30,843.80 Z" fill="#2a2a2a"/>
<text x="535.80" y="767.30" font-size="11.5" text-anchor="middle" fill="#222">Proliferation</text>
<text x="535.80" y="837.00" font-size="11.5" text-anchor="middle" fill="#222">Proliferation</text>
<text x="535.80" y="778.55" font-size="11.5" text-anchor="middle" fill="#222">Colony formation</text>
<text x="535.80" y="848.55" font-size="11.5" text-anchor="middle" fill="#222">Colony formation</text>
<text x="535.80" y="789.80" font-size="11.5" text-anchor="middle" fill="#222">LN tumorigenesis</text>
<text x="535.80" y="860.10" font-size="11.5" text-anchor="middle" fill="#222">LN tumorigenesis</text>
<text x="535.80" y="801.05" font-size="11.5" text-anchor="middle" fill="#222">Distant metastasis</text>
<text x="535.80" y="871.65" font-size="11.5" text-anchor="middle" fill="#222">Distant metastasis</text>
</svg>
</body></html>
